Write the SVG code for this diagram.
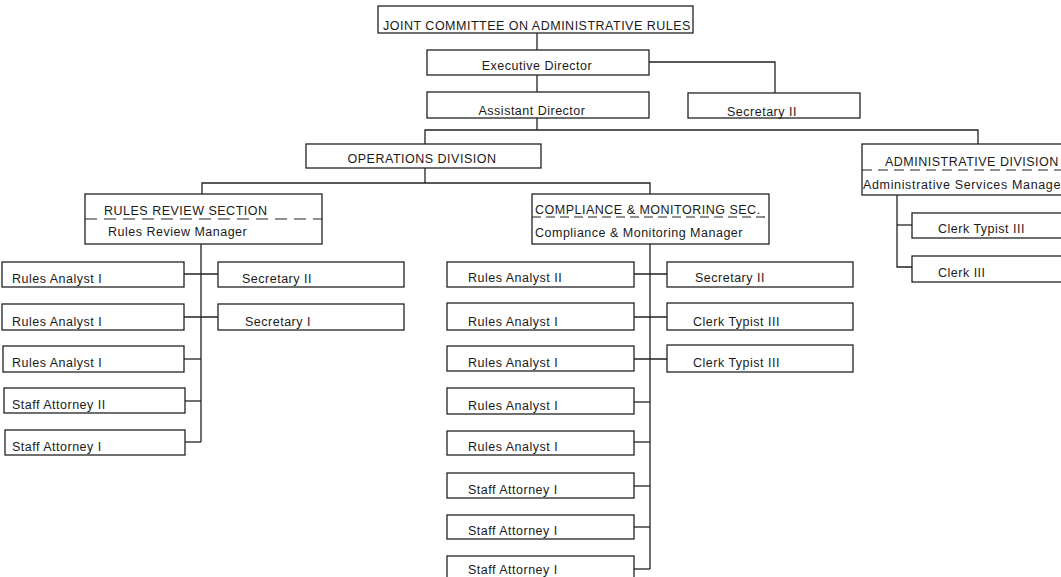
<svg xmlns="http://www.w3.org/2000/svg" width="1061" height="577" viewBox="0 0 1061 577">
<style>
.b{fill:none;stroke:#222;stroke-width:1.3}
.c line,.c polyline{fill:none;stroke:#222;stroke-width:1.3}
.d{stroke:#222;stroke-width:1.2;stroke-dasharray:12 7}
text{font-family:"Liberation Sans",Arial,sans-serif;font-size:12.5px;letter-spacing:0.5px;fill:#1a1a1a}
.m{text-anchor:middle}
</style>
<rect x="0" y="0" width="1061" height="577" fill="#fff"/>
<g class="c" id="connectors">
<line x1="537" y1="33" x2="537" y2="50"/>
<line x1="537" y1="75" x2="537" y2="92"/>
<polyline points="649,62 775,62 775,93"/>
<line x1="537" y1="118" x2="537" y2="130"/>
<polyline points="425,144 425,130 978,130 978,144"/>
<line x1="425" y1="168" x2="425" y2="183"/>
<polyline points="202,194 202,183 650,183 650,194"/>
<line x1="201" y1="244" x2="201" y2="442"/>
<line x1="184" y1="274" x2="218" y2="274"/>
<line x1="184" y1="317" x2="218" y2="317"/>
<line x1="184" y1="359" x2="201" y2="359"/>
<line x1="185" y1="401" x2="201" y2="401"/>
<line x1="185" y1="442" x2="201" y2="442"/>
<line x1="650" y1="244" x2="650" y2="569"/>
<line x1="634" y1="274" x2="667" y2="274"/>
<line x1="634" y1="317" x2="667" y2="317"/>
<line x1="634" y1="359" x2="667" y2="359"/>
<line x1="634" y1="402" x2="650" y2="402"/>
<line x1="634" y1="442" x2="650" y2="442"/>
<line x1="634" y1="486" x2="650" y2="486"/>
<line x1="634" y1="527" x2="650" y2="527"/>
<line x1="634" y1="569" x2="650" y2="569"/>
<polyline points="897,195 897,267 912,267"/>
<line x1="897" y1="225" x2="912" y2="225"/>
</g>
<g id="joint"><rect class="b" x="378" y="6" width="315" height="27"/><text x="383" y="30">JOINT COMMITTEE ON ADMINISTRATIVE RULES</text></g>
<g id="exec"><rect class="b" x="427" y="50" width="222" height="25"/><text class="m" x="537" y="70">Executive Director</text></g>
<g id="asst"><rect class="b" x="427" y="92" width="222" height="26"/><text class="m" x="532" y="115">Assistant Director</text></g>
<g id="sec-top"><rect class="b" x="688" y="93" width="172" height="25"/><text x="727" y="116">Secretary II</text></g>
<g id="ops"><rect class="b" x="306" y="144" width="235" height="24"/><text class="m" x="422" y="163">OPERATIONS DIVISION</text></g>
<g id="rrs"><rect class="b" x="85" y="194" width="237" height="50"/><line class="d" x1="85" y1="219" x2="322" y2="219"/><text x="104" y="215">RULES REVIEW SECTION</text><text x="108" y="236">Rules Review Manager</text></g>
<g id="cms"><rect class="b" x="532" y="194" width="237" height="50"/><line class="d" x1="532" y1="217" x2="769" y2="217" style="stroke-dasharray:9 5"/><text x="535" y="214">COMPLIANCE &amp; MONITORING SEC.</text><text x="535" y="237">Compliance &amp; Monitoring Manager</text></g>
<g id="adm"><rect class="b" x="862" y="144" width="210" height="51"/><line class="d" x1="862" y1="170" x2="1061" y2="170" style="stroke-dasharray:10 6"/><text x="885" y="166">ADMINISTRATIVE DIVISION</text><text x="863" y="189" style="letter-spacing:0.65px">Administrative Services Manage</text></g>
<g id="l1"><rect class="b" x="2" y="262" width="182" height="25"/><text x="12" y="283">Rules Analyst I</text></g>
<g id="l2"><rect class="b" x="2" y="304" width="182" height="26"/><text x="12" y="326">Rules Analyst I</text></g>
<g id="l3"><rect class="b" x="3" y="346" width="181" height="26"/><text x="12" y="367">Rules Analyst I</text></g>
<g id="l4"><rect class="b" x="4" y="388" width="181" height="25"/><text x="12" y="409">Staff Attorney II</text></g>
<g id="l5"><rect class="b" x="5" y="430" width="180" height="25"/><text x="12" y="451">Staff Attorney I</text></g>
<g id="r1"><rect class="b" x="218" y="262" width="186" height="25"/><text x="242" y="283">Secretary II</text></g>
<g id="r2"><rect class="b" x="218" y="304" width="186" height="26"/><text x="245" y="326">Secretary I</text></g>
<g id="m1"><rect class="b" x="447" y="262" width="187" height="25"/><text x="468" y="282">Rules Analyst II</text></g>
<g id="m2"><rect class="b" x="447" y="303" width="187" height="27"/><text x="468" y="326">Rules Analyst I</text></g>
<g id="m3"><rect class="b" x="447" y="346" width="187" height="25"/><text x="468" y="367">Rules Analyst I</text></g>
<g id="m4"><rect class="b" x="447" y="388" width="187" height="26"/><text x="468" y="410">Rules Analyst I</text></g>
<g id="m5"><rect class="b" x="447" y="431" width="187" height="24"/><text x="468" y="451">Rules Analyst I</text></g>
<g id="m6"><rect class="b" x="447" y="473" width="187" height="25"/><text x="468" y="494">Staff Attorney I</text></g>
<g id="m7"><rect class="b" x="447" y="515" width="187" height="24"/><text x="468" y="535">Staff Attorney I</text></g>
<g id="m8"><rect class="b" x="447" y="556" width="187" height="25"/><text x="468" y="574">Staff Attorney I</text></g>
<g id="n1"><rect class="b" x="667" y="262" width="186" height="25"/><text x="695" y="282">Secretary II</text></g>
<g id="n2"><rect class="b" x="667" y="303" width="186" height="27"/><text x="693" y="326">Clerk Typist III</text></g>
<g id="n3"><rect class="b" x="667" y="345" width="186" height="27"/><text x="693" y="367">Clerk Typist III</text></g>
<g id="a1"><rect class="b" x="912" y="213" width="160" height="25"/><text x="938" y="233">Clerk Typist III</text></g>
<g id="a2"><rect class="b" x="912" y="256" width="160" height="26"/><text x="938" y="277">Clerk III</text></g>
</svg>
